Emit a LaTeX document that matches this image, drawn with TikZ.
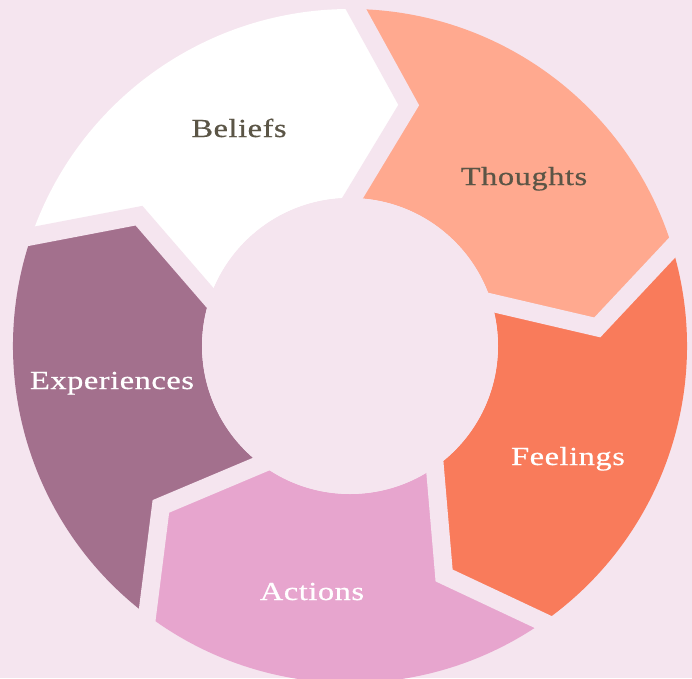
\documentclass[tikz,border=0pt]{standalone}
\usepackage{fontspec}
\usepackage{tikz}
\newfontfamily\ringfont{Liberation Serif}[FakeStretch=1.25,LetterSpace=2,FakeBold=0.6]
\definecolor{ringpink}{HTML}{F5E5EF}
\definecolor{beliefwhite}{HTML}{FFFFFF}
\definecolor{thoughtpeach}{HTML}{FFA98F}
\definecolor{feelingcoral}{HTML}{F97B5B}
\definecolor{actionpink}{HTML}{E7A5CE}
\definecolor{experiencemauve}{HTML}{A3708D}
\definecolor{labeldark}{HTML}{5B5546}
\tikzstyle{gapline} = [draw=ringpink, line width=18pt, line join=miter,
    shorten <=-25pt, shorten >=-25pt]
\tikzstyle{steplabel} = [inner sep=0pt, anchor=base,
    font=\ringfont\fontsize{26}{30}\selectfont]

\begin{document}
\begin{tikzpicture}[x=1pt, y=1pt]
                \useasboundingbox (-350,-332) rectangle (342,346);
                \clip (-350,-332) rectangle (342,346);
                \fill[ringpink] (-350,-332) rectangle (342,346);
                \fill[beliefwhite] (161:337) arc[start angle=161, end angle=89, radius=337] -- (76.3:248) -- (89:148)
                    arc[start angle=89, end angle=161, radius=148] -- (148.3:248) -- cycle;
                \fill[thoughtpeach] (89:337) arc[start angle=89, end angle=17, radius=337] -- (4.3:248) -- (17:148)
                    arc[start angle=17, end angle=89, radius=148] -- (76.3:248) -- cycle;
                \fill[feelingcoral] (17:337) arc[start angle=17, end angle=-55, radius=337] -- (-67.7:248) -- (-55:148)
                    arc[start angle=-55, end angle=17, radius=148] -- (4.3:248) -- cycle;
                \fill[actionpink] (-55:337) arc[start angle=-55, end angle=-127, radius=337] -- (-139.7:248) -- (-127:148)
                    arc[start angle=-127, end angle=-55, radius=148] -- (-67.7:248) -- cycle;
                \fill[experiencemauve] (233:337) arc[start angle=233, end angle=161, radius=337] -- (148.3:248) -- (161:148)
                    arc[start angle=161, end angle=233, radius=148] -- (220.3:248) -- cycle;
                \draw[gapline] (161:337) -- (148.3:248) -- (161:148);
                \draw[gapline] (89:337) -- (76.3:248) -- (89:148);
                \draw[gapline] (17:337) -- (4.3:248) -- (17:148);
                \draw[gapline] (-55:337) -- (-67.7:248) -- (-55:148);
                \draw[gapline] (-127:337) -- (-139.7:248) -- (-127:148);
                \fill[ringpink] (0,0) circle[radius=148];
                \node[steplabel, text=labeldark] (beliefs) at (-111,209) {Beliefs};
                \node[steplabel, text=labeldark] (thoughts) at (174,161) {Thoughts};
                \node[steplabel, text=white] (feelings) at (218,-119) {Feelings};
                \node[steplabel, text=white] (actions) at (-38,-254) {Actions};
                \node[steplabel, text=white] (experiences) at (-238,-43) {Experiences};
            \end{tikzpicture}
\end{document}
